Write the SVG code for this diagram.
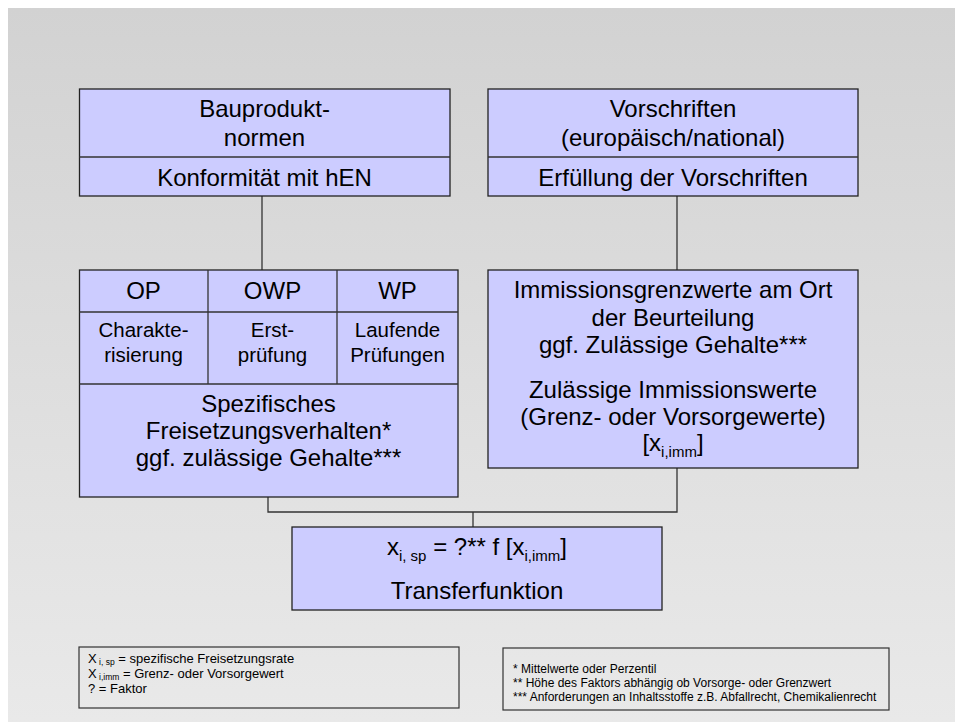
<svg xmlns="http://www.w3.org/2000/svg" width="955" height="722" viewBox="0 0 955 722">
<style>
.box{fill:#ccccff;stroke:#222;stroke-width:1.3}
.leg{fill:none;stroke:#333;stroke-width:1.2}
.ln{stroke:#333;stroke-width:1.3;fill:none}
text{font-family:"Liberation Sans",Arial,sans-serif;fill:#000}
.t24{font-size:24px;text-anchor:middle}
.t21{font-size:20.5px;text-anchor:middle}
.s{font-size:15px}
.l1{font-size:13px}
.l2{font-size:12px}
.ls{font-size:8.5px}
</style>
<defs>
<linearGradient id="bg" x1="0" y1="0" x2="0" y2="1">
<stop offset="0" stop-color="#d2d2d2"/>
<stop offset="1" stop-color="#e9e9e9"/>
</linearGradient>
</defs>
<rect x="0" y="0" width="955" height="722" fill="#ffffff"/>
<rect x="8" y="8" width="947" height="714" fill="url(#bg)"/>

<g id="connectors">
<line class="ln" x1="262" y1="196" x2="262" y2="270"/>
<line class="ln" x1="677" y1="196" x2="677" y2="270"/>
<polyline class="ln" points="268,497 268,512 677,512 677,468"/>
<line class="ln" x1="473" y1="512" x2="473" y2="527"/>
</g>

<g id="bauproduktnormen">
<rect class="box" x="79.5" y="89" width="370.5" height="107"/>
<line class="ln" x1="79.5" y1="157" x2="450" y2="157"/>
<text class="t24" x="264.5" y="117">Bauprodukt-</text>
<text class="t24" x="264.5" y="146">normen</text>
<text class="t24" x="264.5" y="186">Konformität mit hEN</text>
</g>

<g id="vorschriften">
<rect class="box" x="488" y="89" width="370" height="107"/>
<line class="ln" x1="488" y1="157" x2="858" y2="157"/>
<text class="t24" x="673" y="117">Vorschriften</text>
<text class="t24" x="673" y="146">(europäisch/national)</text>
<text class="t24" x="673" y="186">Erfüllung der Vorschriften</text>
</g>

<g id="pruefungen">
<rect class="box" x="79.5" y="270" width="378.5" height="227"/>
<line class="ln" x1="79.5" y1="312" x2="458" y2="312"/>
<line class="ln" x1="79.5" y1="384" x2="458" y2="384"/>
<line class="ln" x1="208" y1="270" x2="208" y2="384"/>
<line class="ln" x1="337" y1="270" x2="337" y2="384"/>
<text class="t24" x="143.5" y="299">OP</text>
<text class="t24" x="272.5" y="299">OWP</text>
<text class="t24" x="397.5" y="299">WP</text>
<text class="t21" x="143.5" y="337">Charakte-</text>
<text class="t21" x="143.5" y="362">risierung</text>
<text class="t21" x="272.5" y="337">Erst-</text>
<text class="t21" x="272.5" y="362">prüfung</text>
<text class="t21" x="397.5" y="337">Laufende</text>
<text class="t21" x="397.5" y="362">Prüfungen</text>
<text class="t24" x="268.5" y="412">Spezifisches</text>
<text class="t24" x="268.5" y="439">Freisetzungsverhalten*</text>
<text class="t24" x="268.5" y="466">ggf. zulässige Gehalte***</text>
</g>

<g id="immission">
<rect class="box" x="488" y="270" width="370" height="198"/>
<text class="t24" x="673" y="298">Immissionsgrenzwerte am Ort</text>
<text class="t24" x="673" y="326">der Beurteilung</text>
<text class="t24" x="673" y="353">ggf. Zulässige Gehalte***</text>
<text class="t24" x="673" y="398">Zulässige Immissionswerte</text>
<text class="t24" x="673" y="425">(Grenz- oder Vorsorgewerte)</text>
<text class="t24" x="673" y="451">[x<tspan class="s" dy="6">i,imm</tspan><tspan dy="-6">]</tspan></text>
</g>

<g id="transferfunktion">
<rect class="box" x="292" y="527" width="370" height="83"/>
<text class="t24" x="477" y="555">x<tspan class="s" dy="6">i, sp</tspan><tspan dy="-6"> = ?** f [x</tspan><tspan class="s" dy="6">i,imm</tspan><tspan dy="-6">]</tspan></text>
<text class="t24" x="477" y="599">Transferfunktion</text>
</g>

<g id="legende-links">
<rect class="leg" x="79" y="647" width="380" height="61"/>
<text class="l1" x="88" y="663">X<tspan class="ls" dy="2"> i, sp</tspan><tspan dy="-2"> = spezifische Freisetzungsrate</tspan></text>
<text class="l1" x="88" y="678">X<tspan class="ls" dy="2"> i,imm</tspan><tspan dy="-2"> = Grenz- oder Vorsorgewert</tspan></text>
<text class="l1" x="88" y="693">? = Faktor</text>
</g>

<g id="legende-rechts">
<rect class="leg" x="503" y="648" width="386" height="62"/>
<text class="l2" x="513" y="673">* Mittelwerte oder Perzentil</text>
<text class="l2" x="513" y="687">** Höhe des Faktors abhängig ob Vorsorge- oder Grenzwert</text>
<text class="l2" x="513" y="701">*** Anforderungen an Inhaltsstoffe z.B. Abfallrecht, Chemikalienrecht</text>
</g>
</svg>
